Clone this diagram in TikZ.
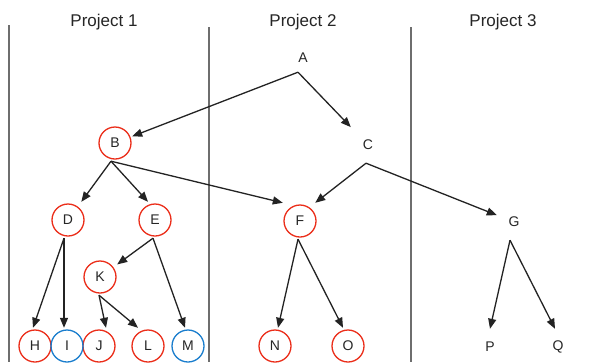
\documentclass[tikz,border=0pt]{standalone}
\usepackage{fontspec}
\setmainfont{Liberation Sans}
\usetikzlibrary{arrows.meta}
\definecolor{ringred}{RGB}{235,45,25}
\definecolor{ringblue}{RGB}{25,125,205}
\definecolor{edgegray}{RGB}{35,35,35}
\definecolor{divgray}{RGB}{110,110,110}
\begin{document}
\begin{tikzpicture}[x=1pt,y=-1pt,
  tnode/.style={rectangle, minimum width=34pt, minimum height=36pt, inner sep=0pt, font=\fontsize{14}{16}\selectfont, text=black!85},
  title/.style={font=\fontsize{17}{20}\selectfont, anchor=base, text=black!85},
  arr/.style={-{Triangle[length=10pt,width=8pt]}, line width=1.3pt, draw=edgegray},
  redring/.style={draw=ringred, line width=1.3pt},
  bluering/.style={draw=ringblue, line width=1.3pt},
  divider/.style={draw=divgray, line width=1.1pt}]
\useasboundingbox (0,0) rectangle (601,362);
\fill[white] (0,0) rectangle (601,362);
% dividers
\coordinate (d1t) at (9,25);   \coordinate (d1b) at (9,362);
\coordinate (d2t) at (209,27); \coordinate (d2b) at (209,362);
\coordinate (d3t) at (411,27); \coordinate (d3b) at (411,362);
\draw[divider] (d1t) -- (d1b);
\draw[divider] (d2t) -- (d2b);
\draw[divider] (d3t) -- (d3b);
% titles
\node[title] (t1) at (104,26) {Project 1};
\node[title] (t2) at (303,26) {Project 2};
\node[title] (t3) at (503,26) {Project 3};
% nodes
\node[tnode, minimum height=28pt] (A) at (303,58) {A};
\node[tnode] (B) at (115,143) {B};
\node[tnode] (C) at (368,145) {C};
\node[tnode] (D) at (68,220) {D};
\node[tnode] (E) at (155,220) {E};
\node[tnode] (F) at (300,221) {F};
\node[tnode] (G) at (514,222) {G};
\node[tnode] (K) at (100,277) {K};
\node[tnode] (H) at (35,346) {H};
\node[tnode] (I) at (67,346) {I};
\node[tnode] (J) at (99,346) {J};
\node[tnode] (L) at (148,346) {L};
\node[tnode] (M) at (188,346) {M};
\node[tnode] (N) at (275,346) {N};
\node[tnode] (O) at (348,346) {O};
\node[tnode] (P) at (490,347) {P};
\node[tnode] (Q) at (558,347) {Q};
% rings
\foreach \n in {B,D,E,F,K,H,J,L,N,O} \draw[redring] (\n.center) circle[radius=16];
\foreach \n in {I,M} \draw[bluering] (\n.center) circle[radius=16];
% edges
\draw[arr] ([xshift=-5]A.south) -- (B);
\draw[arr] ([xshift=-5]A.south) -- (C);
\draw[arr] ([xshift=-4]B.south) -- (D);
\draw[arr] ([xshift=-4]B.south) -- ([xshift=-7]E.north);
\draw[arr] ([xshift=-4]B.south) -- (F.north west);
\draw[arr] ([xshift=-2]C.south) -- ([xshift=-2]F.north east);
\draw[arr] ([xshift=-2]C.south) -- (G);
\draw[arr] ([xshift=-4]D.south) -- ([xshift=-2]H.north);
\draw[arr] ([xshift=-4]D.south) -- ([xshift=-3]I.north);
\draw[arr] ([xshift=-2]E.south) -- (K);
\draw[arr] ([xshift=-2]E.south) -- ([xshift=-3]M.north);
\draw[arr] ([xshift=-1]K.south) -- ([xshift=7]J.north);
\draw[arr] ([xshift=-1]K.south) -- ([xshift=-10]L.north);
\draw[arr] ([xshift=-2]F.south) -- ([xshift=3]N.north);
\draw[arr] ([xshift=-2]F.south) -- ([xshift=-5]O.north);
\draw[arr] ([xshift=-4]G.south) -- (P.north);
\draw[arr] ([xshift=-4]G.south) -- ([xshift=-3]Q.north);
\end{tikzpicture}
\end{document}
